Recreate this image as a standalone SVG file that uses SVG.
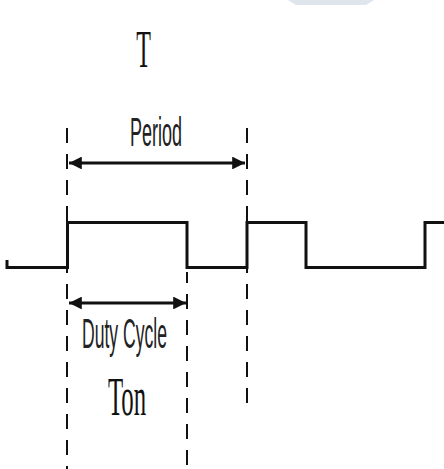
<svg xmlns="http://www.w3.org/2000/svg" width="444" height="469" viewBox="0 0 444 469">
<style>
.sig{fill:none;stroke:#111;stroke-width:3;stroke-linejoin:miter}
.dash{fill:none;stroke:#111;stroke-width:2;stroke-dasharray:15 11}
.arr{fill:none;stroke:#111;stroke-width:3.2;marker-start:url(#ah);marker-end:url(#ah)}
.sans{font-family:"Liberation Sans",Arial,sans-serif;fill:#222}
.serif{font-family:"Liberation Serif","Times New Roman",serif;fill:#111}
</style>
<defs>
<marker id="ah" viewBox="0 0 10 10" refX="10" refY="5" markerWidth="4.6" markerHeight="4" orient="auto-start-reverse" markerUnits="strokeWidth">
<path d="M0,0 L10,5 L0,10 Z" fill="#111"/>
</marker>
</defs>
<rect width="444" height="469" fill="#fff"/>
<polygon points="288,0 374,0 366,5 296,5" fill="#dfe5ec"/>
<g id="guides">
<line class="dash" x1="67" y1="128" x2="67" y2="469"/>
<line class="dash" x1="247" y1="128" x2="247" y2="405"/>
<line class="dash" x1="187" y1="272" x2="187" y2="469" stroke-dashoffset="4"/>
</g>
<g id="signal">
<path class="sig" d="M7,260 L7,267.5 L67.5,267.5 L67.5,222.5 L187,222.5 L187,267.5 L247,267.5 L247,222.5 L306,222.5 L306,267.5 L425,267.5 L425,222.5 L444,222.5"/>
</g>
<g id="connectors">
<line class="arr" x1="69" y1="163" x2="245" y2="163"/>
<line class="arr" x1="69" y1="303" x2="186" y2="303"/>
</g>
<g id="label-T">
<text class="serif" font-size="24" text-anchor="middle" transform="translate(143.5,67) scale(1,2.2)">T</text>
</g>
<g id="label-period">
<text class="sans" font-size="18" text-anchor="middle" transform="translate(156,146) scale(1,2.25)">Period</text>
</g>
<g id="label-duty">
<text class="sans" font-size="17.6" text-anchor="middle" transform="translate(124.5,348) scale(1,2.38)">Duty Cycle</text>
</g>
<g id="label-ton">
<text class="serif" font-size="24.8" text-anchor="middle" transform="translate(127,415) scale(1,2.25)">Ton</text>
</g>
</svg>
